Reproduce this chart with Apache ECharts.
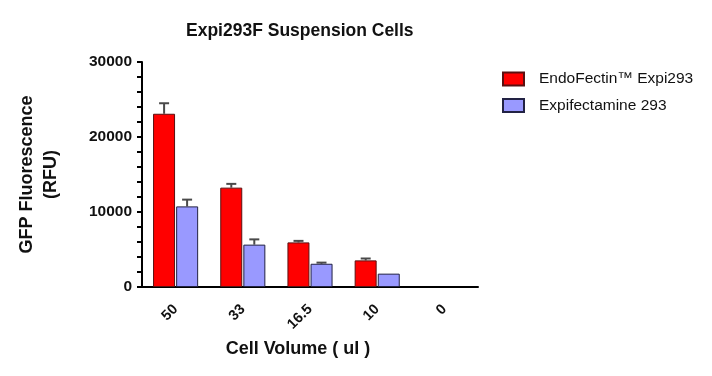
<!DOCTYPE html>
<html>
<head>
<meta charset="utf-8" />
<title>Expi293F Suspension Cells</title>
<style>
  html, body { margin: 0; padding: 0; background: #fff; }
  #main { width: 712px; height: 376px; }
</style>
</head>
<body>
<div id="main"></div>
<script src="https://cdn.jsdelivr.net/npm/echarts@6/dist/echarts.min.js"></script>
<script>
// data
const categories = ['50', '33', '16.5', '10', '0'];
const endoFectin = [23100, 13250, 5950, 3550, 0];
const endoFectinErr = [1400, 500, 200, 250, 0];
const expifectamine = [10750, 5650, 3100, 1780, 0];
const expifectamineErr = [900, 700, 150, 0, 0];
const yTicks = [0, 10000, 20000, 30000];

const barW = 22;
const font = 'Liberation Sans, Arial, sans-serif';

// zero bars get no outline, otherwise a flat line shows on the axis
function barData(values) {
  return values.map(v => (v === 0 ? { value: 0, itemStyle: { borderWidth: 0, opacity: 0 } } : v));
}

// error bar drawn above each bar, shifted to that bar's slot
function errorSeries(values, errs, offset) {
  const data = values.map((v, i) => [i, v, v + errs[i]]);
  return {
    type: 'custom',
    silent: true,
    z: 1,
    renderItem: function (params, api) {
      const i = api.value(0);
      if (api.value(2) - api.value(1) <= 0) return;
      const lo = api.coord([i, api.value(1)]);
      const hi = api.coord([i, api.value(2)]);
      const x = lo[0] + offset;
      const style = { stroke: '#4a4a4a', lineWidth: 2 };
      return {
        type: 'group',
        children: [
          { type: 'line', shape: { x1: x, y1: lo[1], x2: x, y2: hi[1] }, style: style },
          { type: 'line', shape: { x1: x - 5, y1: hi[1], x2: x + 5, y2: hi[1] }, style: style }
        ]
      };
    },
    data: data
  };
}

const chart = echarts.init(document.getElementById('main'));
chart.setOption({
  animation: false,
  title: {
    text: 'Expi293F Suspension Cells',
    left: 181,
    top: 17,
    textStyle: { fontFamily: font, fontWeight: 'bold', fontSize: 17.5, color: '#111' }
  },
  legend: {
    left: 497,
    top: 66,
    orient: 'vertical',
    icon: 'rect',
    itemWidth: 21,
    itemHeight: 13,
    itemGap: 10.5,
    data: ['EndoFectin™ Expi293', 'Expifectamine 293'],
    textStyle: { fontFamily: font, fontSize: 15.5, color: '#111', padding: [0, 0, 0, 10] }
  },
  grid: { left: 142, top: 62, right: 234, bottom: 89 },
  xAxis: {
    type: 'category',
    data: categories,
    name: 'Cell Volume ( ul )',
    nameLocation: 'middle',
    nameGap: 53,
    nameTextStyle: { fontFamily: font, fontWeight: 'bold', fontSize: 18, color: '#111', padding: [0, 24, 0, 0] },
    axisLine: { lineStyle: { color: '#000', width: 2 } },
    axisTick: { alignWithLabel: true, length: 5, lineStyle: { color: '#000', width: 2 } },
    axisLabel: { rotate: 45, margin: 20, fontFamily: font, fontWeight: 'bold', fontSize: 14.5, color: '#111' }
  },
  yAxis: {
    type: 'value',
    min: yTicks[0],
    max: yTicks[yTicks.length - 1],
    interval: 2000,
    name: 'GFP Fluorescence\n(RFU)',
    nameLocation: 'middle',
    nameRotate: 90,
    nameGap: 79,
    nameTextStyle: { fontFamily: font, fontWeight: 'bold', fontSize: 18, color: '#111', lineHeight: 24 },
    splitLine: { show: false },
    axisLine: { show: true, lineStyle: { color: '#000', width: 2 } },
    axisTick: { show: true, length: 5, lineStyle: { color: '#000', width: 2 } },
    axisLabel: {
      margin: 10,
      fontFamily: font, fontWeight: 'bold', fontSize: 15.5, color: '#111',
      formatter: v => (yTicks.indexOf(v) >= 0 ? String(v) : '')
    }
  },
  series: [
    {
      name: 'EndoFectin™ Expi293',
      type: 'bar',
      barWidth: barW,
      barGap: '5%',
      data: barData(endoFectin),
      itemStyle: { color: '#ff0000', borderColor: '#5a1010', borderWidth: 1 }
    },
    {
      name: 'Expifectamine 293',
      type: 'bar',
      barWidth: barW,
      data: barData(expifectamine),
      itemStyle: { color: '#9999ff', borderColor: '#222244', borderWidth: 1 }
    },
    errorSeries(endoFectin, endoFectinErr, -(barW / 2 + 0.5)),
    errorSeries(expifectamine, expifectamineErr, barW / 2 + 0.5)
  ]
});
</script>
</body>
</html>
